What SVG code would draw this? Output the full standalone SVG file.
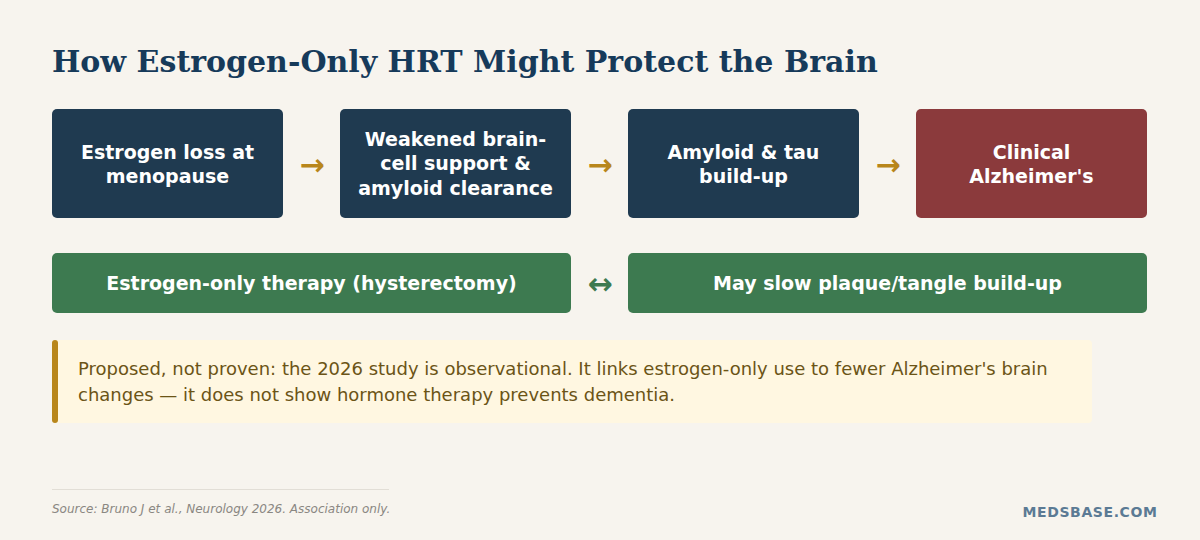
<svg xmlns="http://www.w3.org/2000/svg" width="1200" height="540" viewBox="0 0 1200 540">
<style>
.bg{fill:#f7f4ee}
.title{font-family:"DejaVu Serif",serif;font-weight:bold;font-size:30px;fill:#163a5a}
.nb{fill:#1f3a50}
.nr{fill:#8b3a3c}
.ng{fill:#3d7a50}
.nt{font-family:"DejaVu Sans",sans-serif;font-weight:bold;font-size:19px;fill:#ffffff;text-anchor:middle}
.arr{font-family:"DejaVu Sans",sans-serif;font-weight:bold;font-size:30px;fill:#b8861b;text-anchor:middle}
.arrg{font-family:"DejaVu Sans",sans-serif;font-weight:bold;font-size:30px;fill:#3d7a50;text-anchor:middle}
.note{font-family:"DejaVu Sans",sans-serif;font-size:18px;fill:#6b5416}
.src{font-family:"DejaVu Sans",sans-serif;font-style:italic;font-size:12px;fill:#8a8782}
.brand{font-family:"DejaVu Sans",sans-serif;font-weight:bold;font-size:14px;fill:#5b7a94;letter-spacing:0.6px;text-anchor:end}
</style>
<rect class="bg" x="0" y="0" width="1200" height="540"/>
<text class="title" x="52" y="72">How Estrogen-Only HRT Might Protect the Brain</text>

<g id="n1"><rect class="nb" x="52" y="109" width="231" height="109" rx="5"/>
<text class="nt" x="167.5" y="159">Estrogen loss at</text><text class="nt" x="167.5" y="183">menopause</text></g>
<g id="n2"><rect class="nb" x="340" y="109" width="231" height="109" rx="5"/>
<text class="nt" x="455.5" y="146">Weakened brain-</text><text class="nt" x="455.5" y="170">cell support &amp;</text><text class="nt" x="455.5" y="195">amyloid clearance</text></g>
<g id="n3"><rect class="nb" x="628" y="109" width="231" height="109" rx="5"/>
<text class="nt" x="743.5" y="159">Amyloid &amp; tau</text><text class="nt" x="743.5" y="183">build-up</text></g>
<g id="n4"><rect class="nr" x="916" y="109" width="231" height="109" rx="5"/>
<text class="nt" x="1031.5" y="159">Clinical</text><text class="nt" x="1031.5" y="183">Alzheimer's</text></g>
<g id="n5"><rect class="ng" x="52" y="253" width="519" height="60" rx="5"/>
<text class="nt" x="311.5" y="290">Estrogen-only therapy (hysterectomy)</text></g>
<g id="n6"><rect class="ng" x="628" y="253" width="519" height="60" rx="5"/>
<text class="nt" x="887.5" y="290">May slow plaque/tangle build-up</text></g>

<g id="connectors">
<text class="arr" x="312" y="175">→</text>
<text class="arr" x="600" y="175">→</text>
<text class="arr" x="888" y="175">→</text>
<text class="arrg" x="600" y="294">↔</text>
</g>

<g id="note">
<rect x="52" y="340" width="1040" height="83" rx="4" fill="#fff7e1"/>
<rect x="52" y="340" width="6" height="83" rx="3" fill="#b8861b"/>
<text class="note" x="78" y="375">Proposed, not proven: the 2026 study is observational. It links estrogen-only use to fewer Alzheimer's brain</text>
<text class="note" x="78" y="401">changes — it does not show hormone therapy prevents dementia.</text>
</g>

<line x1="52" y1="489.5" x2="389" y2="489.5" stroke="#e2ded6" stroke-width="1"/>
<text class="src" x="52" y="513">Source: Bruno J et al., Neurology 2026. Association only.</text>
<text class="brand" x="1157.5" y="517">MEDSBASE.COM</text>
</svg>
